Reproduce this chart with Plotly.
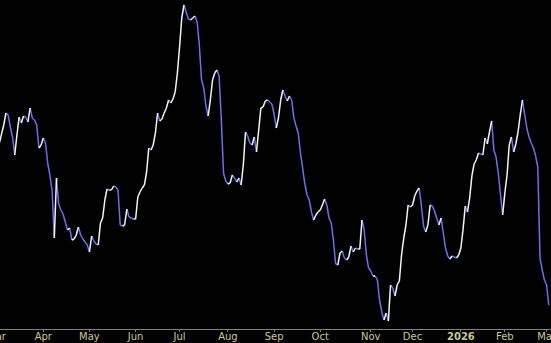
import pandas as pd
import plotly.graph_objects as go

# NYSE holidays in the period (trading-day calendar)
holidays = ["2025-04-18", "2025-05-26", "2025-06-19", "2025-07-04", "2025-09-01",
            "2025-11-27", "2025-12-25", "2026-01-01", "2026-01-19", "2026-02-16"]
start_date = "2025-03-04"
end_date = "2026-03-03"

# closing values (arbitrary units), one per trading day
values = [
    186, 195, 204, 216, 214, 202, 192, 174, 194, 212, 206, 213, 212, 207, 221, 211, 209, 204, 181, 184,
    191, 186, 166, 154, 138, 91, 151, 125, 119, 115, 107, 99, 101, 89, 90, 94, 102, 94, 90, 87,
    84, 77, 93, 88, 85, 84, 106, 111, 129, 140, 139, 139, 143, 142, 139, 104, 103, 104, 120, 112,
    111, 110, 110, 132, 137, 141, 144, 157, 181, 179, 184, 196, 216, 208, 210, 216, 221, 229, 226, 230,
    237, 256, 282, 311, 324, 317, 310, 309, 311, 313, 307, 284, 249, 241, 223, 213, 229, 249, 256, 259,
    253, 209, 156, 148, 145, 146, 154, 151, 147, 151, 144, 164, 197, 193, 186, 184, 192, 177, 199, 221,
    222, 228, 229, 227, 225, 215, 201, 211, 229, 239, 233, 228, 233, 229, 211, 203, 196, 176, 161, 145,
    134, 129, 117, 109, 114, 117, 119, 124, 130, 124, 111, 106, 89, 65, 64, 76, 78, 71, 69, 72,
    83, 77, 81, 80, 80, 109, 99, 74, 61, 58, 53, 53, 49, 29, 17, 9, 16, 8, 44, 41,
    33, 44, 48, 74, 91, 104, 124, 122, 124, 133, 138, 141, 124, 103, 97, 104, 124, 123, 118, 111,
    104, 111, 96, 81, 73, 70, 73, 72, 71, 74, 81, 100, 123, 117, 131, 153, 165, 169, 176, 175,
    174, 191, 185, 197, 208, 179, 172, 156, 135, 114, 136, 154, 184, 192, 177, 185, 197, 214, 229, 215,
    201, 192, 186, 181, 173, 162, 71, 59, 49, 44, 24,
]

tick_dates = ["2025-03-03", "2025-04-01", "2025-05-01", "2025-06-02", "2025-07-01", "2025-08-01",
              "2025-09-02", "2025-10-01", "2025-11-03", "2025-12-01", "2026-01-02", "2026-02-02",
              "2026-03-02"]
tick_labels = ["Mar", "Apr", "May", "Jun", "Jul", "Aug", "Sep", "Oct", "Nov", "Dec",
               "<b>2026</b>", "Feb", "Mar"]

dates = pd.bdate_range(start_date, end_date, freq="C", holidays=holidays)
assert len(dates) == len(values), (len(dates), len(values))

up_x, up_y, dn_x, dn_y = [], [], [], []
for k in range(len(values) - 1):
    seg_x = [dates[k], dates[k + 1], None]
    seg_y = [values[k], values[k + 1], None]
    if values[k + 1] >= values[k]:
        up_x += seg_x
        up_y += seg_y
    else:
        dn_x += seg_x
        dn_y += seg_y

fig = go.Figure()
fig.add_trace(go.Scatter(x=dn_x, y=dn_y, mode="lines", line=dict(color="#6e6ef0", width=1.5),
                         hoverinfo="skip", showlegend=False))
fig.add_trace(go.Scatter(x=up_x, y=up_y, mode="lines", line=dict(color="#f4f4f4", width=1.5),
                         hoverinfo="skip", showlegend=False))

tick_font = dict(family="DejaVu Sans", size=10, color="#c8c898")

fig.update_layout(
    template="none",
    width=551, height=343,
    margin=dict(l=0, r=0, t=0, b=14, pad=0),
    paper_bgcolor="#000000", plot_bgcolor="#000000",
    showlegend=False,
    xaxis=dict(
        type="date",
        range=["2025-03-04 07:12", "2026-03-04 00:00"],
        rangebreaks=[dict(bounds=["sat", "mon"]), dict(values=holidays)],
        tickmode="array", tickvals=tick_dates[1:], ticktext=tick_labels[1:],
        showgrid=False, zeroline=False,
        showline=True, linecolor="#808080", linewidth=1,
        ticks="outside", ticklen=2, tickcolor="#808080", tickwidth=1,
        tickfont=tick_font, automargin=False,
        ticklabeloverflow="allow", ticklabelstandoff=-4,
    ),
    yaxis=dict(visible=False, range=[0, 329], fixedrange=True),
)

# first month label lies just left of the visible range (only its end shows)
fig.add_annotation(x=0, y=0, xref="paper", yref="paper", xanchor="right", yanchor="top",
                   text=tick_labels[0], showarrow=False, font=tick_font, xshift=8, yshift=-1,
                   borderpad=0)

fig.write_html("out.html")
